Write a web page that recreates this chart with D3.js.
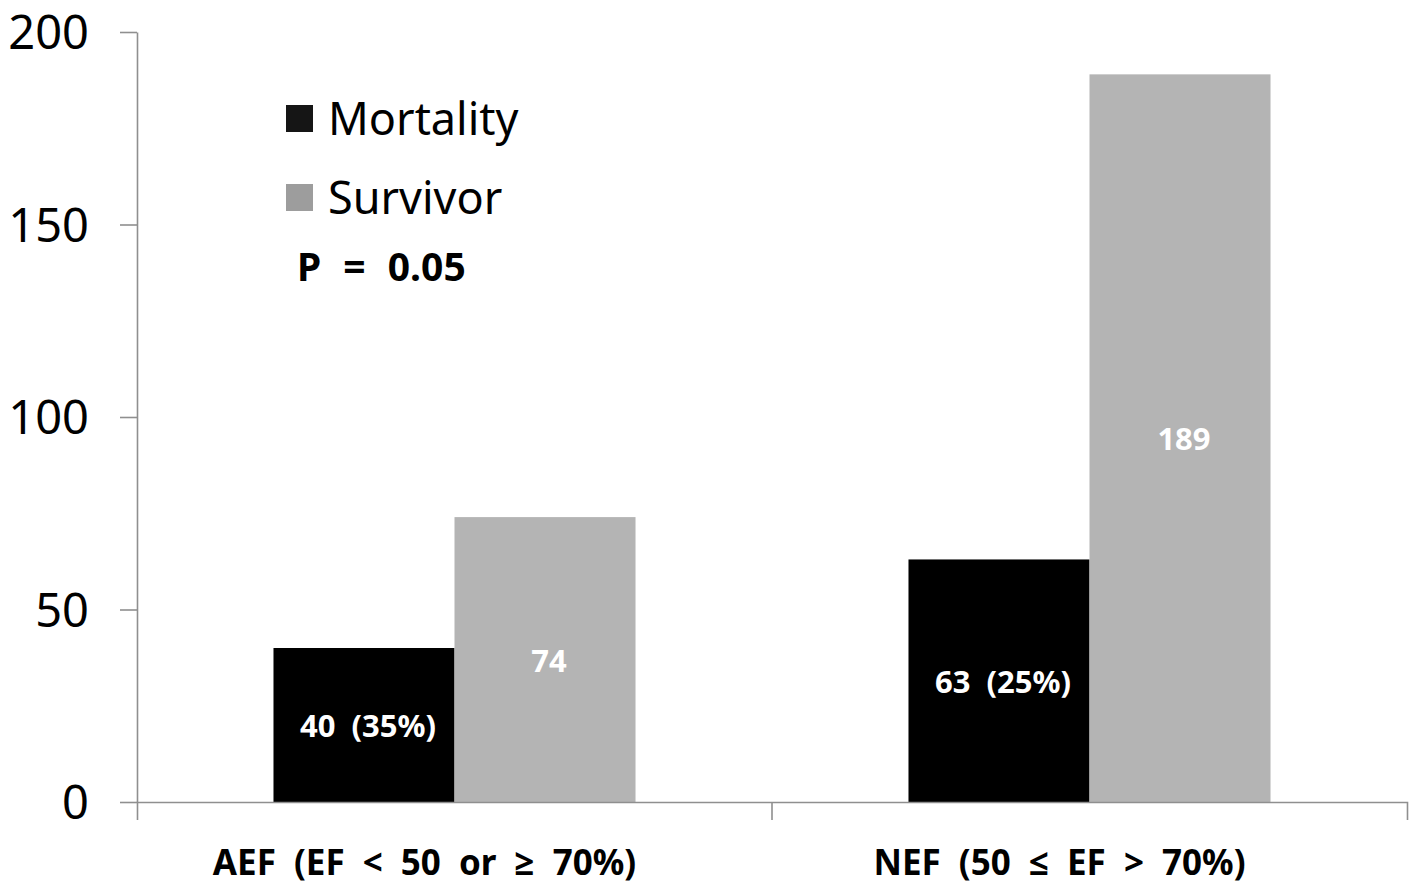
<!DOCTYPE html>
<html>
<head>
<meta charset="utf-8">
<script src="https://cdn.jsdelivr.net/npm/d3@7"></script>
<style>
  html, body { margin: 0; padding: 0; background: #fff; }
  svg { display: block; font-family: "Noto Sans", "Open Sans", sans-serif; }
</style>
</head>
<body>
<div id="chart"></div>
<script>
// Données
const categories = ["AEF (EF < 50 or \u2265 70%)", "NEF (50 \u2264 EF > 70%)"]
const series = ["Mortality", "Survivor"]
const mortality = [40, 63]
const survivor = [74, 189]
const barLabels = [["40 (35%)", "74"], ["63 (25%)", "189"]]
const yTicks = [0, 50, 100, 150, 200]
const pText = "P = 0.05"

const W = 1417, H = 884
const margin = { top: 32, right: 10, bottom: 82, left: 137 }
const width = 1407 - margin.left
const height = H - margin.top - margin.bottom
const font = '"Noto Sans", "Open Sans", sans-serif'

const colors = { Mortality: "#000000", Survivor: "#b4b4b4" }
const legendColors = { Mortality: "#151515", Survivor: "#9d9d9d" }
const axisColor = "#8f8f8f"

const svg = d3.select("#chart").append("svg")
  .attr("width", W).attr("height", H)

const g = svg.append("g").attr("transform", `translate(${margin.left},${margin.top})`)

const y = d3.scaleLinear().domain([0, 200]).range([height, 0])
const x0 = d3.scaleBand().domain(categories).range([0, width])
const x1 = d3.scaleBand().domain(series).range([0, x0.bandwidth()]).paddingOuter(0.754)

// Barres
const rows = categories.map((c, i) => ({ cat: c, values: [
  { s: "Mortality", v: mortality[i], label: barLabels[i][0] },
  { s: "Survivor", v: survivor[i], label: barLabels[i][1] },
] }))

const grp = g.selectAll("g.cat").data(rows).join("g")
  .attr("class", "cat")
  .attr("transform", (d) => `translate(${x0(d.cat)},0)`)

grp.selectAll("rect").data((d) => d.values).join("rect")
  .attr("x", (d) => x1(d.s))
  .attr("width", x1.bandwidth())
  .attr("y", (d) => y(d.v))
  .attr("height", (d) => y(0) - y(d.v))
  .attr("fill", (d) => colors[d.s])

grp.selectAll("text.val").data((d) => d.values).join("text")
  .attr("class", "val")
  .attr("x", (d) => x1(d.s) + x1.bandwidth() / 2 + 4)
  .attr("y", (d) => (y(d.v) + y(0)) / 2 + 12)
  .attr("text-anchor", "middle")
  .attr("fill", "#fff").attr("font-size", 31).attr("font-weight", 700)
  .attr("word-spacing", 8)
  .text((d) => d.label)

// Axe Y
g.append("g")
  .call(d3.axisLeft(y).tickValues(yTicks).tickSize(17).tickSizeOuter(0).tickPadding(31))
  .attr("color", axisColor).attr("font-family", font)
  .call((s) => s.selectAll("line, path").attr("stroke-width", 1.6))
  .call((s) => s.selectAll("text").attr("fill", "#000").attr("font-size", 47).attr("dy", "0.36em"))

// Axe X
const xAxis = g.append("g")
  .attr("transform", `translate(0,${height})`)
  .call(d3.axisBottom(x0).tickSize(0).tickSizeOuter(18).tickPadding(48))
  .attr("color", axisColor).attr("font-family", font)
  .call((s) => s.selectAll("path").attr("stroke-width", 1.6))
  .call((s) => s.selectAll("text").attr("fill", "#000").attr("font-size", 35)
    .attr("font-weight", 700).attr("word-spacing", 9).attr("dx", -30))

xAxis.selectAll("line.sep").data(categories.slice(1)).join("line")
  .attr("class", "sep")
  .attr("x1", (c) => x0(c)).attr("x2", (c) => x0(c))
  .attr("y1", 0).attr("y2", 18)
  .attr("stroke", axisColor).attr("stroke-width", 1.6)

// Légende
const legend = svg.append("g").attr("transform", "translate(286,105)")
series.forEach((s, i) => {
  const row = legend.append("g").attr("transform", `translate(0,${i * 79})`)
  row.append("rect").attr("width", 27).attr("height", 27).attr("fill", legendColors[s])
  row.append("text").attr("x", 42).attr("y", 30)
    .attr("font-size", 45).attr("fill", "#000").text(s)
})
svg.append("text")
  .attr("x", 297).attr("y", 281)
  .attr("font-size", 39).attr("font-weight", 700).attr("fill", "#000")
  .attr("word-spacing", 12)
  .text(pText)
</script>
</body>
</html>
